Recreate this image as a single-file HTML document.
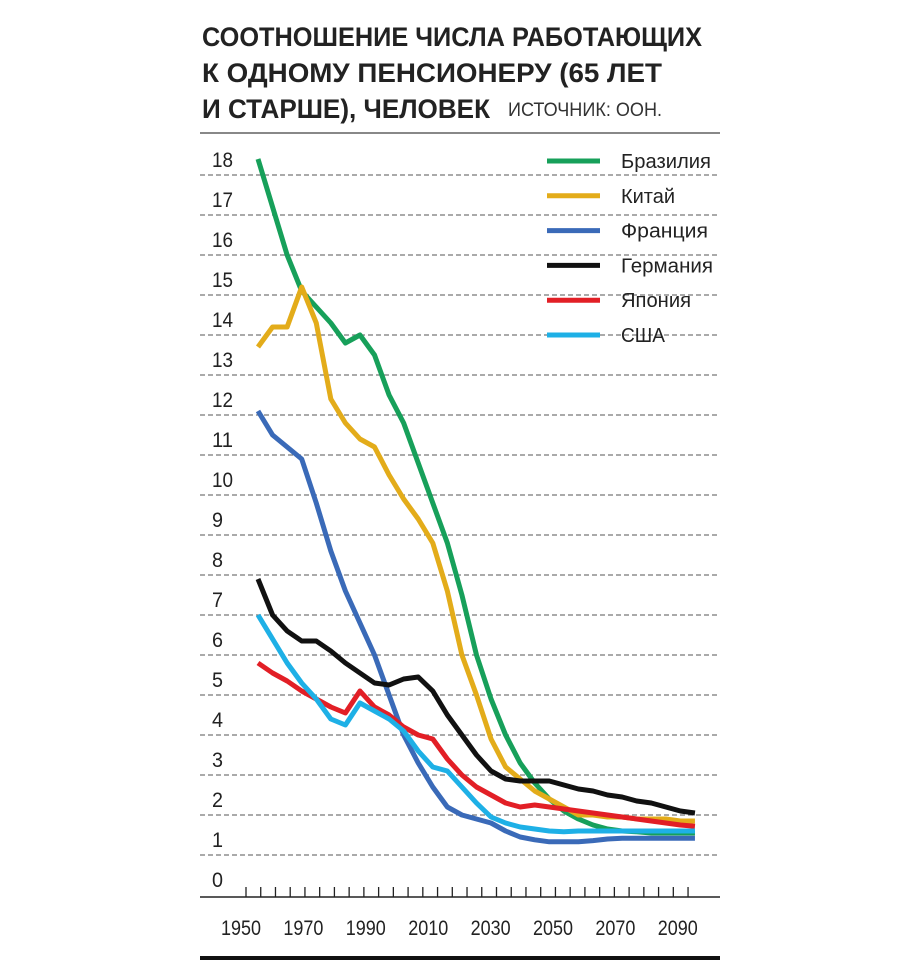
<!DOCTYPE html>
<html><head><meta charset="utf-8"><style>
body{margin:0;background:#fff;}
svg text{font-family:"Liberation Sans Narrow","Liberation Sans",sans-serif;}
</style></head><body>
<svg id="chart" width="920" height="962" xmlns="http://www.w3.org/2000/svg">
<g font-weight="bold" font-size="27" fill="#222">
<text x="202" y="46" textLength="500" lengthAdjust="spacingAndGlyphs">СООТНОШЕНИЕ ЧИСЛА РАБОТАЮЩИХ</text>
<text x="202" y="82" textLength="460" lengthAdjust="spacingAndGlyphs">К ОДНОМУ ПЕНСИОНЕРУ (65 ЛЕТ</text>
<text x="202" y="118" textLength="288" lengthAdjust="spacingAndGlyphs">И СТАРШЕ), ЧЕЛОВЕК</text>
</g>
<text x="508" y="116" font-size="19" fill="#333" textLength="154" lengthAdjust="spacingAndGlyphs">ИСТОЧНИК: ООН.</text>
<line x1="200" y1="133" x2="720" y2="133" stroke="#888" stroke-width="2"/>
<line x1="200" y1="958" x2="720" y2="958" stroke="#111" stroke-width="4"/>
<g id="grid"></g><g id="axis"></g><g id="series"></g><g id="legend"></g>
</svg>
<script>
const years=[];for(let y=1950;y<=2100;y+=5)years.push(y);
const yTicks=[0,1,2,3,4,5,6,7,8,9,10,11,12,13,14,15,16,17,18];
const xLabels=[1950,1970,1990,2010,2030,2050,2070,2090];
const names=["Бразилия","Китай","Франция","Германия","Япония","США"];
const legendWidths=[90,54,87,92,70,44];
const colors=["#17a05a","#e3ac1a","#3a6ab8","#111111","#e21f26","#1eb0e6"];
const brazil=[18.4,17.2,16,15.1,14.7,14.3,13.8,14.0,13.5,12.5,11.8,10.8,9.8,8.8,7.5,6.0,4.9,4.0,3.3,2.8,2.4,2.1,1.9,1.75,1.65,1.6,1.58,1.55,1.55,1.55,1.55];
const china=[13.7,14.2,14.2,15.2,14.3,12.4,11.8,11.4,11.2,10.5,9.9,9.4,8.8,7.6,6.0,5.0,3.9,3.2,2.9,2.6,2.4,2.2,2.0,2.0,1.95,1.95,1.9,1.9,1.9,1.85,1.85];
const france=[12.1,11.5,11.2,10.9,9.8,8.6,7.6,6.8,6.0,5.0,4.0,3.3,2.7,2.2,2.0,1.9,1.8,1.6,1.45,1.38,1.33,1.33,1.33,1.36,1.4,1.42,1.42,1.42,1.42,1.42,1.42];
const germany=[7.9,7.0,6.6,6.35,6.35,6.1,5.8,5.55,5.3,5.25,5.4,5.45,5.1,4.5,4.0,3.5,3.1,2.9,2.85,2.85,2.85,2.75,2.65,2.6,2.5,2.45,2.35,2.3,2.2,2.1,2.05];
const japan=[5.8,5.55,5.35,5.1,4.9,4.7,4.55,5.1,4.7,4.5,4.2,4.0,3.9,3.4,3.0,2.7,2.5,2.3,2.2,2.25,2.2,2.15,2.1,2.05,2.0,1.95,1.9,1.85,1.8,1.75,1.72];
const usa=[7.0,6.4,5.8,5.3,4.9,4.4,4.25,4.8,4.6,4.4,4.1,3.6,3.2,3.1,2.7,2.3,1.95,1.8,1.7,1.65,1.6,1.58,1.6,1.6,1.6,1.6,1.6,1.6,1.6,1.6,1.6];
const series=[brazil,china,france,germany,japan,usa];
const NS="http://www.w3.org/2000/svg";
const xs=y=>258+(y-1950)*2.913;
const ys=v=>895-40*v;
const tickX=y=>246+(y-1950)*2.947;
const labelX=y=>241+(y-1950)*3.12;
function mk(tag,attrs,parent){const e=document.createElementNS(NS,tag);for(const k in attrs)e.setAttribute(k,attrs[k]);parent.appendChild(e);return e;}
const grid=document.getElementById('grid'),axis=document.getElementById('axis');
yTicks.forEach(v=>{
  if(v>0){const l=mk('line',{x1:200,x2:720,y1:ys(v),y2:ys(v),stroke:'#777','stroke-width':1.2,'stroke-dasharray':'5,3'},grid);
  
  }
  const t=mk('text',{x:212,y:ys(v)-8,'font-size':21,fill:'#222',textLength:(v>=10?21:11),lengthAdjust:'spacingAndGlyphs'},axis);t.textContent=v;
  
  
});
const base=mk('line',{x1:200,x2:720,y1:897,y2:897,stroke:'#222','stroke-width':1.5},axis);


years.forEach(y=>{const l=mk('line',{x1:tickX(y),x2:tickX(y),y1:887,y2:897,stroke:'#222','stroke-width':1.3},axis);

});
xLabels.forEach(y=>{const t=mk('text',{x:labelX(y)-20,y:935,'font-size':21,fill:'#222',textLength:40,lengthAdjust:'spacingAndGlyphs'},axis);t.textContent=y;

});
const sg=document.getElementById('series');
series.forEach((d,i)=>{
  const p=mk('polyline',{points:d.map((v,j)=>xs(years[j])+','+ys(v)).join(' '),fill:'none',stroke:colors[i],'stroke-width':5,'stroke-linejoin':'round','stroke-linecap':'butt'},sg);
  
  
});
const lg=document.getElementById('legend');
names.forEach((n,i)=>{
  const y=161+i*34.8;
  const l=mk('line',{x1:547,x2:600,y1:y,y2:y,stroke:colors[i],'stroke-width':5},lg);
  
  
  const t=mk('text',{x:621,y:y+7,'font-size':20,fill:'#222',textLength:legendWidths[i],lengthAdjust:'spacingAndGlyphs'},lg);t.textContent=n;
  
  
});
</script>
</body></html>
